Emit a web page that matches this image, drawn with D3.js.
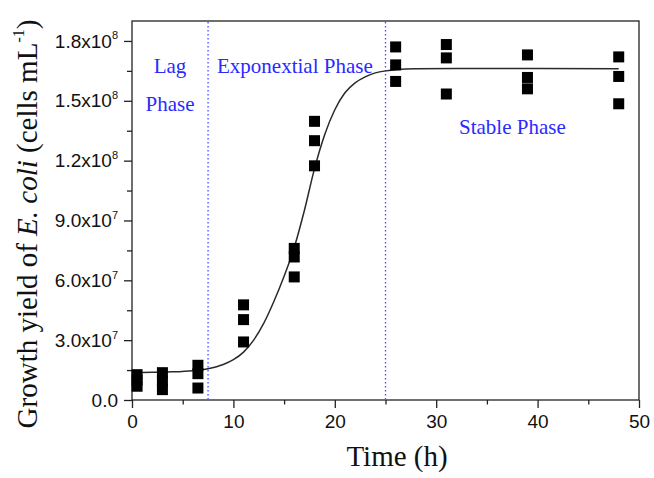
<!DOCTYPE html>
<html>
<head>
<meta charset="utf-8">
<script src="https://cdn.jsdelivr.net/npm/d3@7"></script>
<style>
  body { margin: 0; background: #fff; }
  svg { display: block; }
</style>
</head>
<body>
<svg id="chart" width="654" height="478"></svg>
<script>
// Sampling times (h) and three replicate counts (cells/mL)
const sampleTimes = [0.5, 3, 6.5, 11, 16, 18, 26, 31, 39, 48];
const replicate1 = [1.27e7, 1.37e7, 1.74e7, 4.77e7, 7.60e7, 13.97e7, 17.70e7, 17.82e7, 17.30e7, 17.20e7];
const replicate2 = [1.00e7, 0.95e7, 1.32e7, 4.03e7, 7.17e7, 13.00e7, 16.80e7, 17.15e7, 16.17e7, 16.22e7];
const replicate3 = [0.69e7, 0.52e7, 0.60e7, 2.91e7, 6.17e7, 11.74e7, 15.97e7, 15.34e7, 15.60e7, 14.85e7];

// Fitted growth curve
const fitTimes = [0, 2, 4, 6, 7.5, 9, 10, 11, 12, 13, 14, 15, 16, 17, 18, 19, 20, 21, 22, 23, 24, 25, 26, 28, 32, 40, 48];
const fitValues = [1.37e7, 1.39e7, 1.41e7, 1.47e7, 1.57e7, 1.78e7, 2.02e7, 2.40e7, 3.00e7, 3.85e7, 4.95e7, 6.20e7,
  7.65e7, 9.50e7, 11.60e7, 13.30e7, 14.55e7, 15.40e7, 15.90e7, 16.20e7, 16.40e7, 16.50e7, 16.55e7, 16.60e7,
  16.62e7, 16.62e7, 16.60e7];

// Phase boundaries (h) and labels
const phaseBoundaries = [7.5, 25];
const phaseLabels = ["Lag", "Phase", "Exponextial Phase", "Stable Phase"];

// Axis ticks
const xTicks = [0, 10, 20, 30, 40, 50];
const xMinorTicks = [5, 15, 25, 35, 45];
const yTicks = [0, 3e7, 6e7, 9e7, 1.2e8, 1.5e8, 1.8e8];
const yMinorTicks = [1.5e7, 4.5e7, 7.5e7, 1.05e8, 1.35e8, 1.65e8];
const yTickMantissa = ["0.0", "3.0", "6.0", "9.0", "1.2", "1.5", "1.8"];
const yTickExponent = ["", "7", "7", "7", "8", "8", "8"];

const svg = d3.select("#chart");
const mLeft = 132, mRight = 639, mTop = 21, mBottom = 400;

const x = d3.scaleLinear().domain([0, 50]).range([mLeft, mRight]);
const y = d3.scaleLinear().domain([0, 1.9e8]).range([mBottom, mTop]);

const serif = "'Liberation Serif', 'Times New Roman', serif";
const sans = "'Liberation Sans', Arial, sans-serif";
const blue = "#2a2aff";

// frame
svg.append("rect")
  .attr("x", mLeft).attr("y", mTop)
  .attr("width", mRight - mLeft).attr("height", mBottom - mTop)
  .attr("fill", "none").attr("stroke", "#222").attr("stroke-width", 1.3);

// phase boundaries
svg.selectAll(".phase-line")
  .data(phaseBoundaries)
  .enter()
  .append("line")
  .attr("class", "phase-line")
  .attr("x1", d => x(d)).attr("x2", d => x(d))
  .attr("y1", mTop + 1).attr("y2", mBottom - 1)
  .attr("stroke", "#4646ff")
  .attr("stroke-width", 1.3)
  .attr("stroke-dasharray", "1.6,2.4");

// axes
function styleAxis(g) {
  g.select(".domain").remove();
  g.selectAll(".tick line").attr("stroke", "#222").attr("stroke-width", 1.3);
}

svg.append("g")
  .attr("transform", `translate(0,${mBottom})`)
  .call(d3.axisBottom(x).tickValues(xTicks).tickSize(8).tickPadding(7))
  .call(styleAxis)
  .call(g => g.selectAll("text")
    .attr("font-family", sans).attr("font-size", "19px").attr("fill", "#111"));

svg.append("g")
  .attr("transform", `translate(0,${mBottom})`)
  .call(d3.axisBottom(x).tickValues(xMinorTicks).tickSize(4.5).tickFormat(""))
  .call(styleAxis);

svg.append("g")
  .attr("transform", `translate(${mLeft},0)`)
  .call(d3.axisLeft(y).tickValues(yTicks).tickSize(8).tickFormat(""))
  .call(styleAxis);

svg.append("g")
  .attr("transform", `translate(${mLeft},0)`)
  .call(d3.axisLeft(y).tickValues(yMinorTicks).tickSize(5).tickFormat(""))
  .call(styleAxis);

// y tick labels with superscript exponents
yTicks.forEach((v, i) => {
  const t = svg.append("text")
    .attr("x", mLeft - 14)
    .attr("y", y(v))
    .attr("dy", "0.35em")
    .attr("text-anchor", "end")
    .attr("font-family", sans)
    .attr("font-size", "19px")
    .attr("fill", "#111");
  if (yTickExponent[i]) {
    t.append("tspan").text(yTickMantissa[i] + "x10");
    t.append("tspan").attr("font-size", "11px").attr("dy", "-0.75em").text(yTickExponent[i]);
  } else {
    t.text(yTickMantissa[i]);
  }
});

// fitted curve
const fitData = fitTimes.map((t, i) => ({ t: t, v: fitValues[i] }));
svg.append("path")
  .datum(fitData)
  .attr("fill", "none")
  .attr("stroke", "#2a2a2a")
  .attr("stroke-width", 1.5)
  .attr("d", d3.line().x(d => x(d.t)).y(d => y(d.v)).curve(d3.curveMonotoneX));

// sample squares
const points = [];
[replicate1, replicate2, replicate3].forEach(rep => {
  rep.forEach((v, i) => points.push({ t: sampleTimes[i], v: v }));
});
const sq = 11;
svg.selectAll(".pt")
  .data(points)
  .enter()
  .append("rect")
  .attr("class", "pt")
  .attr("x", d => x(d.t) - sq / 2)
  .attr("y", d => y(d.v) - sq / 2)
  .attr("width", sq).attr("height", sq)
  .attr("fill", "#000");

// phase labels
const label = (txt, px, py, anchor) => svg.append("text")
  .attr("x", px).attr("y", py)
  .attr("text-anchor", anchor)
  .attr("font-family", serif)
  .attr("font-size", "21px")
  .attr("fill", blue)
  .text(txt);
label(phaseLabels[0], 170, 73, "middle");
label(phaseLabels[1], 170, 111, "middle");
label(phaseLabels[2], 217, 73, "start");
label(phaseLabels[3], 459, 134, "start");

// axis titles
svg.append("text")
  .attr("x", 397).attr("y", 466)
  .attr("text-anchor", "middle")
  .attr("font-family", serif)
  .attr("font-size", "29px")
  .attr("fill", "#111")
  .text("Time (h)");

const yTitle = svg.append("text")
  .attr("transform", "translate(37,224) rotate(-90)")
  .attr("text-anchor", "middle")
  .attr("font-family", serif)
  .attr("font-size", "29px")
  .attr("fill", "#111");
yTitle.append("tspan").text("Growth yield of ");
yTitle.append("tspan").attr("font-style", "italic").text("E. coli");
yTitle.append("tspan").text(" (cells mL");
yTitle.append("tspan").attr("font-size", "16px").attr("dy", "-0.8em").text("-1");
yTitle.append("tspan").attr("dy", "0.45em").text(")");
</script>
</body>
</html>
